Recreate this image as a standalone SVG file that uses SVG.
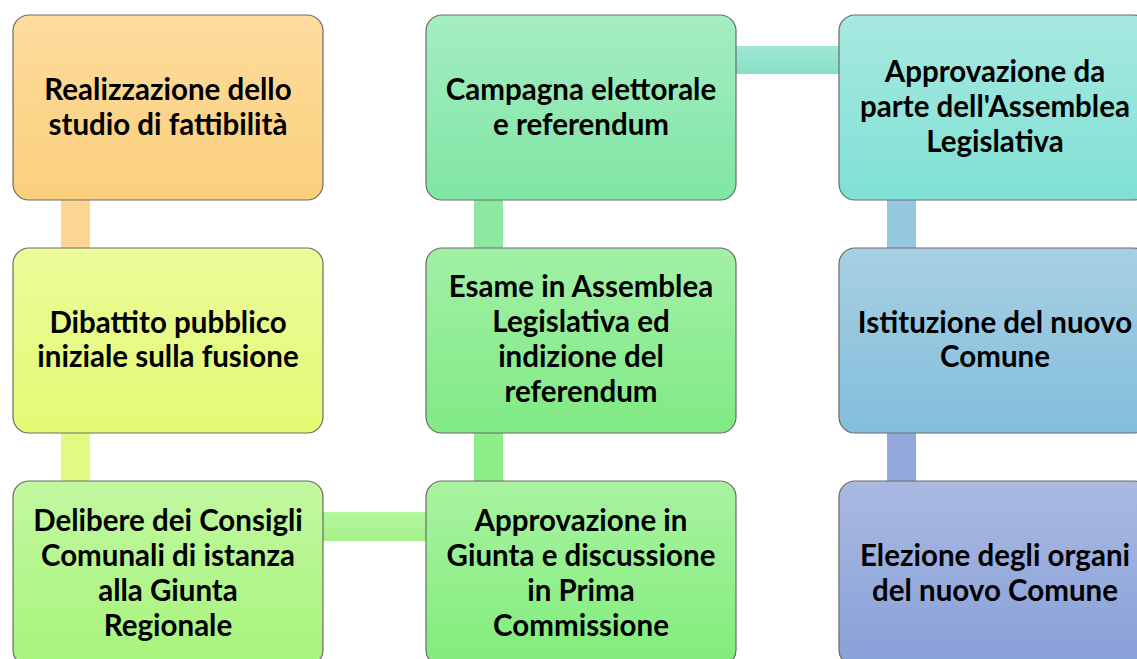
<svg xmlns="http://www.w3.org/2000/svg" width="1137" height="659" viewBox="0 0 1137 659">
<style>
.box{stroke:#6b6b6b;stroke-width:1.2}
.t{font-family:Lato,"Liberation Sans",sans-serif;font-weight:bold;font-size:29.5px;fill:#000;text-anchor:middle}
</style>
<defs>
<linearGradient id="g1" x1="0" y1="0" x2="0" y2="1"><stop offset="0" stop-color="#FDDC9F"/><stop offset="1" stop-color="#FBCF7B"/></linearGradient>
<linearGradient id="g2" x1="0" y1="0" x2="0" y2="1"><stop offset="0" stop-color="#ECFB98"/><stop offset="1" stop-color="#E3FA74"/></linearGradient>
<linearGradient id="g3" x1="0" y1="0" x2="0" y2="1"><stop offset="0" stop-color="#C2F8A0"/><stop offset="1" stop-color="#A6F47C"/></linearGradient>
<linearGradient id="g4" x1="0" y1="0" x2="0" y2="1"><stop offset="0" stop-color="#A8F3A0"/><stop offset="1" stop-color="#82EC7C"/></linearGradient>
<linearGradient id="g5" x1="0" y1="0" x2="0" y2="1"><stop offset="0" stop-color="#A2F0A6"/><stop offset="1" stop-color="#80EA84"/></linearGradient>
<linearGradient id="g6" x1="0" y1="0" x2="0" y2="1"><stop offset="0" stop-color="#A5EDC2"/><stop offset="1" stop-color="#7FE6A4"/></linearGradient>
<linearGradient id="g7" x1="0" y1="0" x2="0" y2="1"><stop offset="0" stop-color="#A8E9E0"/><stop offset="1" stop-color="#7FE0D4"/></linearGradient>
<linearGradient id="g8" x1="0" y1="0" x2="0" y2="1"><stop offset="0" stop-color="#A8CFE3"/><stop offset="1" stop-color="#82BEDC"/></linearGradient>
<linearGradient id="g9" x1="0" y1="0" x2="0" y2="1"><stop offset="0" stop-color="#AAB9E2"/><stop offset="1" stop-color="#87A0D8"/></linearGradient>
<linearGradient id="ch1" x1="0" y1="0" x2="0" y2="1"><stop offset="0" stop-color="#B6F6A0"/><stop offset="1" stop-color="#A2F287"/></linearGradient>
<linearGradient id="ch2" x1="0" y1="0" x2="0" y2="1"><stop offset="0" stop-color="#A0E8D4"/><stop offset="1" stop-color="#86E0C6"/></linearGradient>
</defs>
<g id="connectors">
<rect x="61" y="199" width="29" height="50" fill="#FCD690"/>
<rect x="61" y="432" width="29" height="50" fill="#E1FA82"/>
<rect x="322" y="512" width="105" height="29" fill="url(#ch1)"/>
<rect x="474" y="432" width="29" height="50" fill="#8CEE88"/>
<rect x="474" y="199" width="29" height="50" fill="#8DE9A0"/>
<rect x="735" y="46" width="105" height="28" fill="url(#ch2)"/>
<rect x="887" y="199" width="29" height="50" fill="#94C8DE"/>
<rect x="887" y="432" width="29" height="50" fill="#94A9DB"/>
</g>
<g id="n1"><rect class="box" x="13" y="15" width="310" height="185" rx="16" fill="url(#g1)"/>
<text class="t" x="168" y="100">Realizzazione dello</text><text class="t" x="168" y="135">studio di fattibilità</text></g>
<g id="n2"><rect class="box" x="13" y="248" width="310" height="185" rx="16" fill="url(#g2)"/>
<text class="t" x="168" y="333">Dibattito pubblico</text><text class="t" x="168" y="367">iniziale sulla fusione</text></g>
<g id="n3"><rect class="box" x="13" y="481" width="310" height="185" rx="16" fill="url(#g3)"/>
<text class="t" x="168" y="531">Delibere dei Consigli</text><text class="t" x="168" y="566">Comunali di istanza</text><text class="t" x="168" y="601">alla Giunta</text><text class="t" x="168" y="636">Regionale</text></g>
<g id="n4"><rect class="box" x="426" y="481" width="310" height="185" rx="16" fill="url(#g4)"/>
<text class="t" x="581" y="531">Approvazione in</text><text class="t" x="581" y="566">Giunta e discussione</text><text class="t" x="581" y="601">in Prima</text><text class="t" x="581" y="636">Commissione</text></g>
<g id="n5"><rect class="box" x="426" y="248" width="310" height="185" rx="16" fill="url(#g5)"/>
<text class="t" x="581" y="297">Esame in Assemblea</text><text class="t" x="581" y="332">Legislativa ed</text><text class="t" x="581" y="367">indizione del</text><text class="t" x="581" y="402">referendum</text></g>
<g id="n6"><rect class="box" x="426" y="15" width="310" height="185" rx="16" fill="url(#g6)"/>
<text class="t" x="581" y="100">Campagna elettorale</text><text class="t" x="581" y="135">e referendum</text></g>
<g id="n7"><rect class="box" x="839" y="15" width="310" height="185" rx="16" fill="url(#g7)"/>
<text class="t" x="995" y="82">Approvazione da</text><text class="t" x="995" y="117">parte dell'Assemblea</text><text class="t" x="995" y="152">Legislativa</text></g>
<g id="n8"><rect class="box" x="839" y="248" width="310" height="185" rx="16" fill="url(#g8)"/>
<text class="t" x="995" y="333">Istituzione del nuovo</text><text class="t" x="995" y="367">Comune</text></g>
<g id="n9"><rect class="box" x="839" y="481" width="310" height="185" rx="16" fill="url(#g9)"/>
<text class="t" x="995" y="566">Elezione degli organi</text><text class="t" x="995" y="601">del nuovo Comune</text></g>
</svg>
